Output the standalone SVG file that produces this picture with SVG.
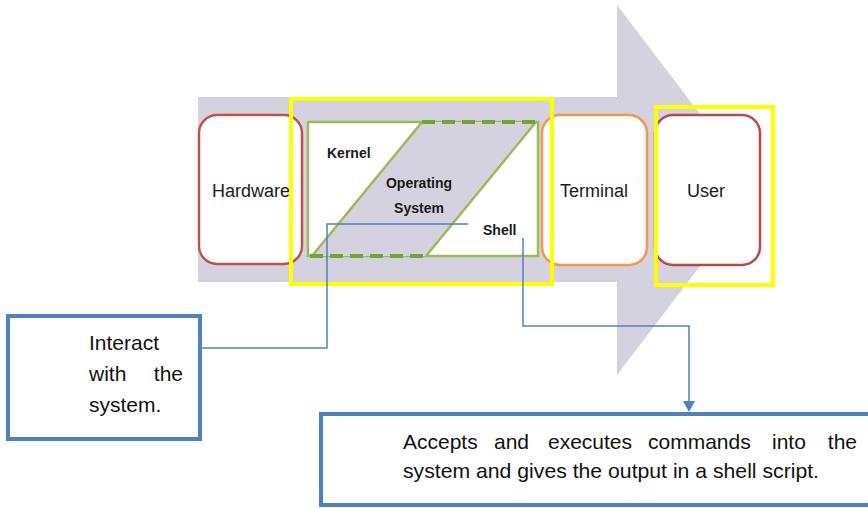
<svg xmlns="http://www.w3.org/2000/svg" width="868" height="508" viewBox="0 0 868 508">
<defs>
<style>
.lbl{font-family:"Liberation Sans",Arial,sans-serif;font-size:18px;fill:#1a1a1a}
.bold{font-family:"Liberation Sans",Arial,sans-serif;font-size:14px;font-weight:bold;fill:#1a1a1a}
.note{font-family:"Liberation Sans",Arial,sans-serif;font-size:21px;fill:#111}
.box{fill:#fff;stroke-width:2.5}
.yel{fill:none;stroke:#ffff00;stroke-width:4}
.conn{fill:none;stroke:#4f81bd;stroke-width:1.5}
.nbox{fill:#fff;stroke:#4f81bd;stroke-width:4}
</style>
<marker id="ah" markerWidth="12" markerHeight="12" refX="6" refY="10" orient="auto" markerUnits="userSpaceOnUse" viewBox="0 0 12 12">
<path d="M0,0 L12,0 L6,10 Z" fill="#4f81bd" transform="rotate(-90 6 6)"/>
</marker>
</defs>

<g id="bigArrow">
<polygon points="198,97 617,97 617,5 758,190 617,375 617,282 198,282" fill="#d5d2df"/>
</g>

<g id="hardware">
<rect class="box" x="199" y="115" width="103" height="149" rx="18" stroke="#c0504d"/>
<text class="lbl" x="212" y="197">Hardware</text>
</g>

<g id="os">
<rect x="308" y="122" width="230" height="134" fill="#fff" stroke="#9bbb59" stroke-width="2.5"/>
<polygon points="312,256 422,122 536,122 426,256" fill="#d5d2df"/>
<line x1="312" y1="256" x2="422" y2="122" stroke="#9bbb59" stroke-width="2.5"/>
<line x1="426" y1="256" x2="536" y2="122" stroke="#9bbb59" stroke-width="2.5"/>
<line x1="422" y1="122" x2="538" y2="122" stroke="#6ea636" stroke-width="4" stroke-dasharray="13,7"/>
<line x1="310" y1="256" x2="426" y2="256" stroke="#6ea636" stroke-width="4" stroke-dasharray="13,7"/>
<text class="bold" x="327" y="158">Kernel</text>
<text class="bold" x="419" y="188" text-anchor="middle">Operating</text>
<text class="bold" x="419" y="213" text-anchor="middle">System</text>
<text class="bold" x="483" y="235">Shell</text>
</g>

<g id="terminal">
<rect class="box" x="542" y="115" width="105" height="150" rx="18" stroke="#f79646"/>
<text class="lbl" x="594" y="197" text-anchor="middle">Terminal</text>
</g>

<g id="user">
<rect class="box" x="655" y="115" width="105" height="150" rx="18" stroke="#b94a48"/>
<text class="lbl" x="706" y="197" text-anchor="middle">User</text>
</g>

<g id="highlights">
<rect class="yel" x="291" y="99" width="261" height="185"/>
<rect class="yel" x="656" y="107" width="117" height="178"/>
</g>

<g id="connectors">
<path class="conn" d="M468,224 H327 V348 H201"/>
<path class="conn" d="M523,238 V326 H689 V402"/>
<polygon points="683,401 695,401 689,412" fill="#4f81bd"/>
</g>

<g id="interactNote">
<rect class="nbox" x="8" y="316" width="192" height="123"/>
<text class="note" x="89" y="350">Interact</text>
<text class="note" x="89" y="381">with</text>
<text class="note" x="183" y="381" text-anchor="end">the</text>
<text class="note" x="89" y="412">system.</text>
</g>

<g id="shellNote">
<rect class="nbox" x="321" y="414" width="570" height="91"/>
<text class="note" x="403" y="449">Accepts</text>
<text class="note" x="494" y="449">and</text>
<text class="note" x="548" y="449">executes</text>
<text class="note" x="648" y="449">commands</text>
<text class="note" x="772" y="449">into</text>
<text class="note" x="857" y="449" text-anchor="end">the</text>
<text class="note" x="403" y="478" textLength="416" lengthAdjust="spacingAndGlyphs">system and gives the output in a shell script.</text>
</g>
</svg>
